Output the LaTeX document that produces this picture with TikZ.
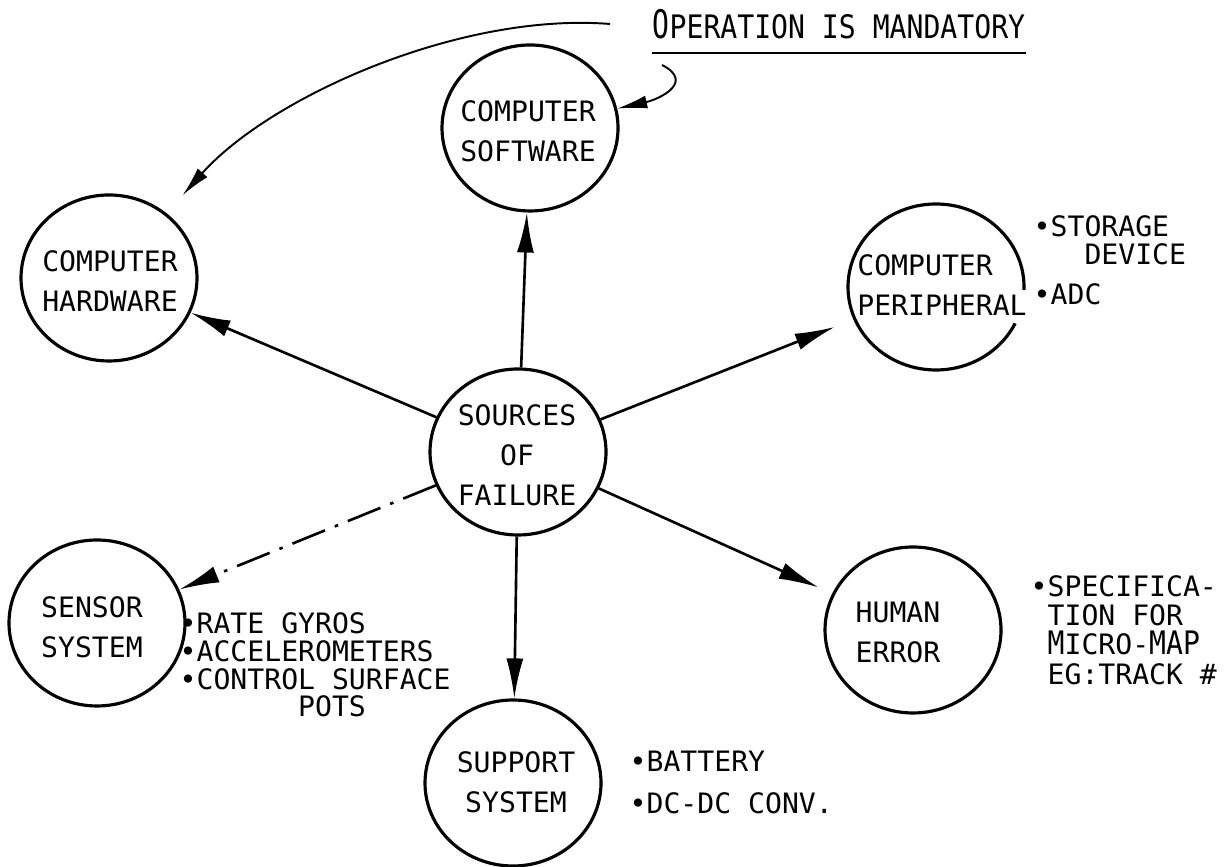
\documentclass[tikz,border=0pt]{standalone}
\usepackage{fontspec}
\setmainfont{DejaVu Sans Mono}
\usepackage{graphicx}
\usetikzlibrary{arrows.meta, shapes.geometric}
\tikzset{
  disc/.style={ellipse, draw=black, line width=0.9pt, minimum width=1.76cm,
               minimum height=1.66cm, inner sep=0pt},
  ring/.style={draw=black, line width=0.9pt},
  inside/.style={align=center, inner sep=0pt, font=\fontsize{8}{11.4}\selectfont},
  items/.style={align=left, anchor=north west, inner sep=0pt, font=\fontsize{8}{7.9}\selectfont},
  ttl/.style={anchor=base west, inner sep=0pt, font=\fontsize{8}{10}\selectfont},
  arr/.style={-{Latex[length=4mm,width=1.7mm]}, line width=0.75pt},
  broken/.style={arr, dash pattern=on 10pt off 3pt on 1pt off 3pt},
  thin/.style={-{Latex[length=3mm,width=1.3mm]}, line width=0.55pt},
  rule/.style={line width=0.6pt},
}
\newcommand{\tall}[2][1.15]{\scalebox{1}[#1]{#2}}

\begin{document}
\begin{tikzpicture}[x=1cm, y=1cm]
\useasboundingbox (0,0) rectangle (12.31,8.67);
% the hub
\node[disc] (src) at (5.18,4.15) {};
\node[inside] at (5.17,4.12) {SOURCES\\OF\\FAILURE};
% the six kinds of failure round it
\node[disc] (sw) at (5.30,7.39) {};
\node[inside] at (5.28,7.36) {COMPUTER\\SOFTWARE};
\node[disc] (hw) at (1.09,5.89) {};
\node[inside] at (1.10,5.86) {COMPUTER\\HARDWARE};
\node[disc, draw=none] (per) at (9.36,5.80) {};
\draw[ring] (per) ++(-2:0.88 and 0.83) arc[start angle=-2, end angle=334, x radius=0.88, y radius=0.83];
\node[inside, align=left] at (9.42,5.82) {COMPUTER\\PERIPHERAL};
\node[disc] (sen) at (0.97,2.44) {};
\node[inside] at (0.92,2.40) {SENSOR\\SYSTEM};
\node[disc] (sup) at (5.13,0.84) {};
\node[inside] at (5.16,0.85) {SUPPORT\\SYSTEM};
\node[disc] (hum) at (9.13,2.37) {};
\node[inside] at (8.98,2.35) {HUMAN\\ERROR};
% spokes
\draw[arr] (src) -- (sw);
\draw[arr] (src) -- (hw);
\draw[arr, shorten >=2mm] (src) -- (per);
\draw[broken] (src) -- (sen);
\draw[arr] (src) -- (sup);
\draw[arr, shorten >=1.5mm] (src) -- (hum);
% the note on top and its two pointers
\node[ttl] (mand) at (6.52,8.28) {\tall[1.4]{O}\tall{PERATION IS MANDATORY}};
\draw[rule] ([yshift=-1.4mm]mand.base west) -- ([yshift=-1.4mm]mand.base east);
\coordinate (hwtail) at (6.10,8.43);
\draw[thin, shorten >=2.4mm] (hwtail) .. controls (4.6,8.55) and (2.7,7.7) .. (hw);
\coordinate (swtail) at (6.62,8.02);
\draw[thin] (swtail) .. controls (6.95,7.85) and (6.6,7.68) .. (sw);
% examples beside the circles
\node[items] (store) at (10.33,6.52) {•STORAGE\\\phantom{•ST}DEVICE};
\node[items] (adc) at (10.33,5.84) {•ADC};
\node[items] (gyro) at (1.79,2.55) {•RATE GYROS\\•ACCELEROMETERS\\•CONTROL SURFACE\\\phantom{•CONTRO}POTS};
\node[items] (power) at (6.29,1.17) {•BATTERY\\[4.1pt]•DC-DC CONV.};
\node[items, font=\fontsize{8}{8.3}\selectfont] (spec) at (10.30,2.92) {•SPECIFICA-\\\phantom{•}TION FOR\\\phantom{•}\tall{M}ICRO-\tall{MAP}\\\phantom{•}EG:TRACK \#};
\end{tikzpicture}
\end{document}
